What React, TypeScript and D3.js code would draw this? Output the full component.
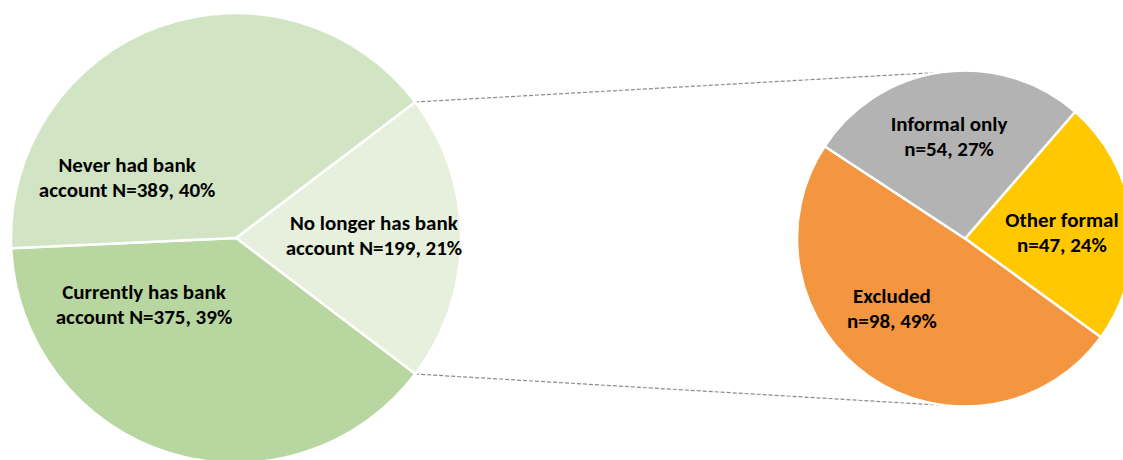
import React from "react";
import * as d3 from "d3";

const mainCategories = ["No longer has bank account", "Currently has bank account", "Never had bank account"];
const mainValues = [199, 375, 389];
const mainLabels = [["No longer has bank", "account N=199, 21%"], ["Currently has bank", "account N=375, 39%"], ["Never had bank", "account N=389, 40%"]];
const mainColors = ["#e6f0dc", "#b8d69f", "#d1e4c4"];

const subCategories = ["Other formal", "Excluded", "Informal only"];
const subValues = [47, 98, 54];
const subLabels = [["Other formal", "n=47, 24%"], ["Excluded", "n=98, 49%"], ["Informal only", "n=54, 27%"]];
const subColors = ["#ffc800", "#f4953f", "#b3b3b3"];

const W = 1123, H = 460;

// label layout: offsets (centre x, first baseline y) relative to pie centre, in units of radius
const mainLabelPos = [[0.613, -0.036], [-0.409, 0.271], [-0.484, -0.294]];
const subLabelPos = [[0.577, -0.069], [-0.435, 0.383], [-0.095, -0.641]];

export default function App() {
  const c1 = { x: 236, y: 238, r: 225 };
  const c2 = { x: 965, y: 238.5, r: 168 };
  const deg = Math.PI / 180;
  const total1 = d3.sum(mainValues);
  const half = (mainValues[0] / total1) * Math.PI;
  const pie1 = d3.pie<number>().sort(null).startAngle(Math.PI / 2 - half).endAngle(Math.PI / 2 - half + 2 * Math.PI)(mainValues);
  const pie2 = d3.pie<number>().sort(null).startAngle(41 * deg).endAngle(41 * deg + 2 * Math.PI)(subValues);
  const arc1 = d3.arc<d3.PieArcDatum<number>>().innerRadius(0).outerRadius(c1.r);
  const arc2 = d3.arc<d3.PieArcDatum<number>>().innerRadius(0).outerRadius(c2.r);
  const p = (a: number, r: number, c: { x: number; y: number }) => [c.x + r * Math.sin(a), c.y - r * Math.cos(a)];
  const top1 = p(pie1[0].startAngle, c1.r, c1);
  const bot1 = p(pie1[0].endAngle, c1.r, c1);
  const font = "Carlito, Lato, 'Open Sans', sans-serif";
  const fs = 21;
  const lh = 25.5;
  return (
    <svg width={W} height={H} style={{ position: "absolute", left: 0, top: 0 }} fontFamily={font}>
      <line x1={top1[0]} y1={top1[1]} x2={c2.x - 10} y2={c2.y - c2.r + 1} stroke="#8c8c8c" strokeWidth={1.2} strokeDasharray="4,2" />
      <line x1={bot1[0]} y1={bot1[1]} x2={c2.x - 18} y2={c2.y + c2.r - 1} stroke="#8c8c8c" strokeWidth={1.2} strokeDasharray="4,2" />
      <g transform={`translate(${c1.x},${c1.y})`}>
        {pie1.map((d, i) => (
          <path key={mainCategories[i]} d={arc1(d) || ""} fill={mainColors[i]} stroke="#fff" strokeWidth={2.5} />
        ))}
        {mainLabels.map((l, i) => (
          <text key={i} textAnchor="middle" fontSize={fs} fontWeight="bold" fill="#000">
            <tspan x={mainLabelPos[i][0] * c1.r} y={mainLabelPos[i][1] * c1.r}>{l[0]}</tspan>
            <tspan x={mainLabelPos[i][0] * c1.r} y={mainLabelPos[i][1] * c1.r + lh}>{l[1]}</tspan>
          </text>
        ))}
      </g>
      <g transform={`translate(${c2.x},${c2.y})`}>
        {pie2.map((d, i) => (
          <path key={subCategories[i]} d={arc2(d) || ""} fill={subColors[i]} stroke="#fff" strokeWidth={2.5} />
        ))}
        {subLabels.map((l, i) => (
          <text key={i} textAnchor="middle" fontSize={fs} fontWeight="bold" fill="#000">
            <tspan x={subLabelPos[i][0] * c2.r} y={subLabelPos[i][1] * c2.r}>{l[0]}</tspan>
            <tspan x={subLabelPos[i][0] * c2.r} y={subLabelPos[i][1] * c2.r + lh}>{l[1]}</tspan>
          </text>
        ))}
      </g>
    </svg>
  );
}
